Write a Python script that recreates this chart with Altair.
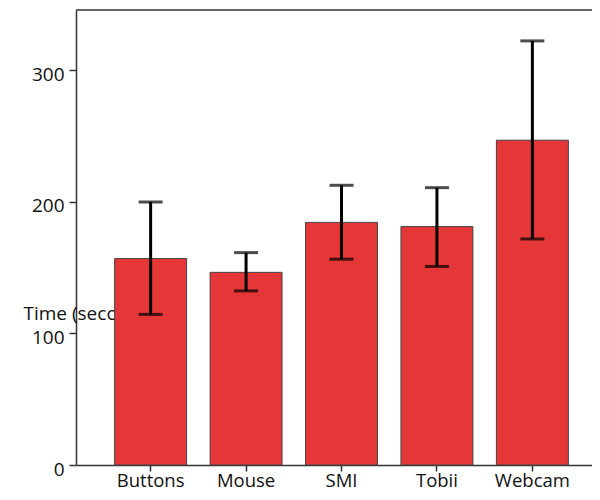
import altair as alt
import pandas as pd

categories = ["Buttons", "Mouse", "SMI", "Tobii", "Webcam"]
means = [157, 146.5, 184.5, 181.3, 247]
upper = [200, 161.5, 212.7, 210.9, 322.5]
lower = [114.5, 132.4, 156.5, 151, 171.9]
y_ticks = [0, 100, 200, 300]

df = pd.DataFrame({"cat": categories, "mean": means, "hi": upper, "lo": lower})

FONT = "Open Sans"
FS = 19
W, H = 516, 455

xenc = alt.X("cat:N", sort=categories,
             scale=alt.Scale(range=[0, 531], paddingInner=0.246, paddingOuter=0.405),
             axis=alt.Axis(title=None, labelAngle=0, tickSize=6, labelPadding=0,
                           labelFont=FONT, labelFontSize=18.5, labelColor="#111",
                           domainColor="#333", domainWidth=1.5, tickColor="#333",
                           tickWidth=1.5))
yscale = alt.Scale(domain=[0, 346], nice=False, zero=True)
yaxis = alt.Axis(values=y_ticks, grid=False, tickSize=7, labelPadding=5, labelOffset=4,
                 labelFont=FONT, labelFontSize=FS, labelColor="#111",
                 domainColor="#333", domainWidth=1.5, tickColor="#333", tickWidth=1.5,
                 title="Time (seconds)", titleAngle=0, titleAlign="left",
                 titleBaseline="alphabetic", titleX=-53, titleY=309,
                 titleFont=FONT, titleFontSize=FS, titleFontWeight="normal",
                 titleColor="#111")

base = alt.Chart(df)

bars = base.mark_bar(color="#e53638", stroke="#444", strokeWidth=1).encode(
    x=xenc,
    y=alt.Y("mean:Q", scale=yscale, axis=yaxis),
)
stems = base.mark_rule(color="black", strokeWidth=3).encode(
    x=alt.X("cat:N", sort=categories),
    y=alt.Y("lo:Q", scale=yscale),
    y2="hi:Q",
)
caps_hi = base.mark_tick(color="black", thickness=3, size=24, orient="horizontal").encode(
    x=alt.X("cat:N", sort=categories),
    y=alt.Y("hi:Q", scale=yscale),
)
caps_lo = base.mark_tick(color="black", thickness=3, size=24, orient="horizontal").encode(
    x=alt.X("cat:N", sort=categories),
    y=alt.Y("lo:Q", scale=yscale),
)
top = alt.Chart(pd.DataFrame({"a": [0]})).mark_rule(color="#333", strokeWidth=1.5).encode(
    x=alt.value(0), x2=alt.value(W + 10), y=alt.value(0)
)

chart = alt.layer(bars, stems, caps_hi, caps_lo, top).properties(
    width=W, height=H,
    autosize=alt.AutoSizeParams(type="none"),
    padding={"left": 68, "top": 2, "right": 0, "bottom": 27},
).configure_view(stroke=None)

chart.save("out.html", embed_options={"renderer": "svg", "actions": False})
